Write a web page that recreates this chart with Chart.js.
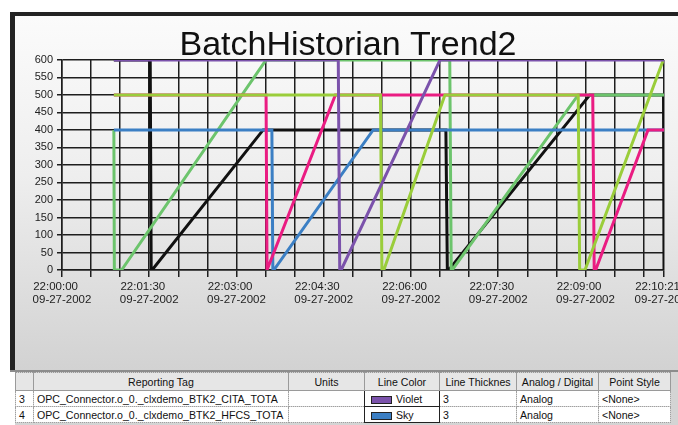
<!DOCTYPE html>
<html>
<head>
<meta charset="utf-8">
<script src="https://cdn.jsdelivr.net/npm/chart.js@4.4.0/dist/chart.umd.min.js"></script>
<style>
  body { margin: 0; width: 678px; height: 425px; overflow: hidden; background: #fff; position: relative; font-family: "Liberation Sans", Arial, sans-serif; }
  #frame { position: absolute; left: 10px; top: 12px; width: 668px; height: 358px; background: #232323; }
  #panel { position: absolute; left: 15px; top: 16px; width: 663px; height: 354px; overflow: hidden;
           background: linear-gradient(#fbfbfb, #eeeeee 45%, #d2d2d2); }
  #sep { position: absolute; left: 10px; top: 370px; width: 668px; height: 2px; background: #8c8c8c; }
  #grid { position: absolute; left: 15px; top: 372px; width: 663px; height: 53px; background: #d4d4d4; }
  table { border-collapse: collapse; table-layout: fixed; width: 655px; font-size: 10.6px; color: #111; }
  th { height: 17px; background: #e6e6e6; font-weight: normal; border: 1px solid #9a9a9a; border-top: 1px dotted #9a9a9a; padding: 0; text-align: center; white-space: nowrap; overflow: hidden; }
  td { height: 15px; background: #fff; border: 1px dotted #a0a0a0; padding: 0 0 0 3px; white-space: nowrap; overflow: hidden; }
  td.lc { border: 1px solid #222; padding-left: 6px; }
  .sw { display: inline-block; width: 19px; height: 6px; border: 1px solid #222; margin-right: 4px; vertical-align: -1px; }
</style>
</head>
<body>
<div id="frame"></div>
<div id="panel"><canvas id="trend" width="720" height="354"></canvas></div>
<div id="sep"></div>
<div id="grid">
<table>
  <colgroup><col style="width:18px"><col style="width:255px"><col style="width:76px"><col style="width:75px"><col style="width:77px"><col style="width:82px"><col style="width:72px"></colgroup>
  <tr><th></th><th>Reporting Tag</th><th>Units</th><th>Line Color</th><th>Line Thicknes</th><th>Analog / Digital</th><th>Point Style</th></tr>
  <tr><td>3</td><td>OPC_Connector.o_0._clxdemo_BTK2_CITA_TOTA</td><td></td><td class="lc"><span class="sw" style="background:#7b52ab"></span>Violet</td><td>3</td><td>Analog</td><td>&lt;None&gt;</td></tr>
  <tr><td>4</td><td>OPC_Connector.o_0._clxdemo_BTK2_HFCS_TOTA</td><td></td><td class="lc"><span class="sw" style="background:#3b7fc4"></span>Sky</td><td>3</td><td>Analog</td><td>&lt;None&gt;</td></tr>
</table>
</div>
<script>
// time axis: seconds after 22:00:00
var tickSecs  = [0, 90, 180, 270, 360, 450, 540, 621];
var tickTimes = ['22:00:00', '22:01:30', '22:03:00', '22:04:30', '22:06:00', '22:07:30', '22:09:00', '22:10:21'];
var tickDate  = '09-27-2002';

// each pen: sample times (s) and values
var violetT = [53.5, 285, 286.5, 288, 390, 621];
var violetV = [600, 600, 0, 0, 600, 600];

var limeT = [53.5, 328.5, 330, 332, 395, 532.5, 534, 539.5, 620.3, 621];
var limeV = [500, 500, 0, 0, 500, 500, 0, 0, 600, 600];

var pinkT = [53.5, 210.5, 211.5, 212.5, 282, 547.5, 549, 550.5, 604.5, 621];
var pinkV = [500, 500, 0, 0, 500, 500, 0, 0, 400, 400];

var skyT = [53.5, 216.5, 217.5, 218.5, 321, 621];
var skyV = [400, 400, 0, 0, 400, 400];

var greenT = [53.5, 54, 61.5, 210.5, 400, 401.5, 402.5, 532.5, 621];
var greenV = [400, 0, 0, 600, 600, 0, 0, 500, 500];

var blackT = [53.5, 91, 92, 93, 207.5, 396, 397.5, 399, 544.5, 620.5, 621];
var blackV = [600, 600, 0, 0, 400, 400, 0, 0, 500, 500, 0];

var pts = function(t, v) {
	var out = [];
	for (var i = 0; i < t.length; i++) {
		out.push({x: t[i], y: v[i]});
	}
	return out;
}

var pen = function(t, v, color) {
	return {
		data: pts(t, v),
		borderColor: color,
		borderWidth: 3,
		pointRadius: 0,
		tension: 0,
		fill: false
	};
}

var gridColor = '#1e1e1e';

// first dataset is drawn on top
new Chart(document.getElementById('trend'), {
	type: 'line',
	data: {
		datasets: [
			pen(violetT, violetV, '#7b52ab'),
			pen(limeT, limeV, '#9acd3a'),
			pen(pinkT, pinkV, '#ea1c82'),
			pen(skyT, skyV, '#3b7fc4'),
			pen(greenT, greenV, '#6cc46c'),
			pen(blackT, blackV, '#111111')
		]
	},
	options: {
		responsive: false,
		animation: false,
		layout: { padding: { left: 17, right: 71, top: 0, bottom: 0 } },
		plugins: {
			legend: { display: false },
			tooltip: { enabled: false },
			title: {
				display: true,
				text: 'BatchHistorian Trend2',
				color: '#111',
				font: { family: 'Liberation Sans', size: 34, weight: 'normal', lineHeight: 0.85 },
				padding: { top: 15, bottom: 0 }
			}
		},
		scales: {
			x: {
				type: 'linear',
				min: 0,
				max: 621,
				afterBuildTicks: function(scale) {
					var t = [];
					for (var s = 0; s <= 600; s += 30) t.push({value: s});
					t.push({value: 621});
					scale.ticks = t;
				},
				afterFit: function(scale) { scale.height = 100; },
				grid: { color: gridColor, lineWidth: 1.5, tickLength: 7 },
				border: { color: gridColor, width: 1.5 },
				ticks: {
					autoSkip: false,
					maxRotation: 0,
					padding: 3,
					color: '#222',
					font: { family: 'Liberation Sans', size: 11.5, lineHeight: 1.15 },
					callback: function(value) {
						var i = tickSecs.indexOf(value);
						if (i < 0) return '';
						return [tickTimes[i] + '    ', tickDate];
					}
				}
			},
			y: {
				min: 0,
				max: 600,
				afterFit: function(scale) { scale.width = 30; },
				grid: { color: gridColor, lineWidth: 1.5, tickLength: 5 },
				border: { color: gridColor, width: 1.5 },
				ticks: {
					stepSize: 50,
					padding: 4,
					color: '#222',
					font: { family: 'Liberation Sans', size: 11 }
				}
			}
		}
	}
});
</script>
</body>
</html>
